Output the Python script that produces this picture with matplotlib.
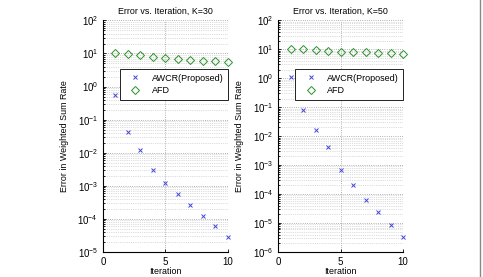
import matplotlib
matplotlib.use("Agg")
import matplotlib.pyplot as plt
from matplotlib.lines import Line2D
from matplotlib.ticker import LogLocator, LogFormatterMathtext, NullFormatter

plt.rcParams['font.family'] = ['Liberation Sans', 'DejaVu Sans']
plt.rcParams['mathtext.default'] = 'regular'
plt.rcParams['font.size'] = 6.4

iterations = [1, 2, 3, 4, 5, 6, 7, 8, 9, 10]

# K=30
awcr_k30 = [0.56, 0.042, 0.0117, 0.003, 0.00123, 5.6e-4, 2.6e-4, 1.26e-4, 6.0e-5, 2.9e-5]
afd_k30 = [10.5, 9.8, 8.9, 7.9, 7.4, 6.9, 6.5, 6.0, 5.8, 5.4]

# K=50
awcr_k50 = [1.07, 0.079, 0.017, 0.0041, 6.8e-4, 2.0e-4, 6.3e-5, 2.5e-5, 8.7e-6, 3.4e-6]
afd_k50 = [10.7, 10.0, 9.5, 9.1, 8.4, 8.1, 7.8, 7.6, 7.4, 7.0]

panels = [
    ("Error vs. Iteration, K=30", awcr_k30, afd_k30, (1e-5, 1e2)),
    ("Error vs. Iteration, K=50", awcr_k50, afd_k50, (1e-6, 1e2)),
]

fig = plt.figure(figsize=(4.83, 2.77), dpi=100)
lefts = [0.213, 0.5756]

for left, (title, awcr, afd, ylim) in zip(lefts, panels):
    ax = fig.add_axes([left, 0.0903, 0.259, 0.836])
    ax.semilogy(iterations, awcr, linestyle='none', marker='x', color='#4545d8',
                markersize=3.5, markeredgewidth=0.7, clip_on=False, label='AWCR(Proposed)',
                zorder=5)
    ax.semilogy(iterations, afd, linestyle='none', marker='D', color='#2a942a',
                markerfacecolor='none', markersize=4.2, markeredgewidth=0.7,
                clip_on=False, label='AFD', zorder=5)
    ax.set_xlim(0, 10)
    ax.set_ylim(*ylim)
    ax.set_xticks([0, 5, 10])
    ax.yaxis.set_major_locator(LogLocator(base=10, numticks=20))
    ax.yaxis.set_major_formatter(LogFormatterMathtext())
    ax.yaxis.set_minor_locator(LogLocator(base=10, subs=range(2, 10), numticks=20))
    ax.yaxis.set_minor_formatter(NullFormatter())
    ax.grid(True, which='major', axis='both', linestyle=':', color='#999999', linewidth=0.6)
    ax.grid(True, which='minor', axis='y', linestyle=':', color='#bbbbbb', linewidth=0.5)
    ax.spines['top'].set_visible(False)
    ax.spines['right'].set_visible(False)
    ax.tick_params(which='both', direction='in', length=2.5, width=0.6, labelsize=7)
    ax.tick_params(which='minor', length=1.5)
    ax.set_title(title, fontsize=6.4, pad=5)
    ax.set_xlabel("Iteration", labelpad=0)
    ax.set_ylabel("Error in Weighted Sum Rate", labelpad=6)
    leg = ax.legend(loc='upper right', bbox_to_anchor=(1.0, 0.79), fancybox=False,
                    edgecolor='black', framealpha=1, handlelength=2.4, handletextpad=0.6,
                    borderpad=0.5, labelspacing=0.4, borderaxespad=0, fontsize=6.5)
    leg.get_frame().set_linewidth(0.6)
    leg.set_zorder(10)

fig.add_artist(Line2D([480 / 483, 480 / 483], [0, 1], color='#888888', linewidth=1))

fig.savefig("out.png", dpi=100)
